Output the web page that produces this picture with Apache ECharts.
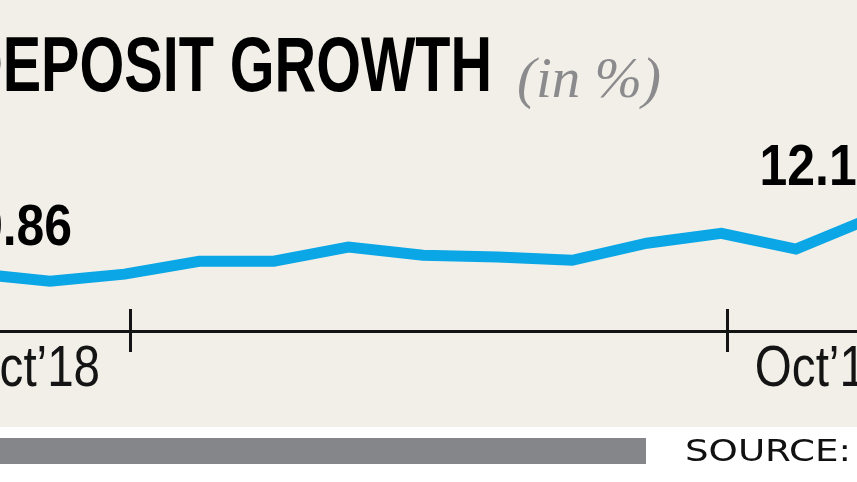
<!DOCTYPE html>
<html><head><meta charset="utf-8">
<script src="https://cdn.jsdelivr.net/npm/echarts@6/dist/echarts.min.js"></script>
<style>html,body{margin:0;padding:0;background:#fff}#c{width:857px;height:482px}</style>
</head><body><div id="c"></div>
<script>
// data (x = period index, y = deposit growth %)
const periods = [0,1,2,3,4,5,6,7,8,9,10,11,12];
const deposit = [9.86, 9.55, 9.84, 10.37, 10.37, 10.95, 10.62, 10.54, 10.41, 11.11, 11.52, 10.87, 12.14];
const tickLabels = ["Oct\u201918", "Oct\u201919"];
const tickAt = [2.08, 10.08];     // axis positions of the year ticks
const labelAt = [0.75, 11.37];    // axis positions of the tick labels

const chart = echarts.init(document.getElementById('c'), null, {renderer:'canvas'});
const XMIN = 0.33, XMAX = 11.818;
const axisColor = '#141414';

const option = {
  backgroundColor: '#ffffff',
  animation: false,
  grid: {left:0, right:0, top:173, bottom:151, containLabel:false, outerBoundsMode:'none'},
  xAxis: [
    {type:'value', min:XMIN, max:XMAX, position:'bottom',
     axisLine:{show:true, lineStyle:{color:axisColor, width:3}},
     axisTick:{show:true, customValues:tickAt, length:21, lineStyle:{color:axisColor, width:3}},
     axisLabel:{show:false},
     splitLine:{show:false}},
    {type:'value', min:XMIN, max:XMAX, position:'bottom',
     axisLine:{show:false},
     axisTick:{show:true, inside:true, customValues:tickAt, length:22, lineStyle:{color:axisColor, width:3}},
     axisLabel:{show:false}, splitLine:{show:false}}
  ],
  yAxis: {type:'value', min:7.5, max:14, show:false},
  series: [{
    type:'line', xAxisIndex:0, yAxisIndex:0,
    data: periods.map((p,i)=>[p, deposit[i]]),
    symbol:'none', clip:true,
    lineStyle:{color:'#0aa6e6', width:11, join:'miter', cap:'butt'},
    z:3
  }],
  graphic: []
};
chart.setOption(option);

const p0 = chart.convertToPixel({seriesIndex:0}, [periods[0], deposit[0]]);
const pN = chart.convertToPixel({seriesIndex:0}, [periods[periods.length-1], deposit[deposit.length-1]]);
const axisY = chart.convertToPixel({yAxisIndex:0}, 7.5);

const axisLabelEls = tickLabels.map((t,i)=>({
  type:'text', x: chart.convertToPixel({xAxisIndex:0}, labelAt[i]), y: axisY + 39, scaleX:0.82,
  style:{text:t, font:'58px "Liberation Sans"', fill:axisColor, textAlign:'center', textVerticalAlign:'middle'}
}));

chart.setOption({
  graphic: [
    {type:'rect', z:-10, silent:true, shape:{x:0,y:0,width:857,height:427}, style:{fill:'#f1efe8'}},
    {type:'rect', z:-5, silent:true, shape:{x:0,y:438,width:646,height:26}, style:{fill:'#858689'}},
    {type:'text', x:685, y:453, scaleX:1.2, style:{text:'SOURCE:', font:'31px "DejaVu Sans"', fill:'#111', textAlign:'left', textVerticalAlign:'middle'}},
    {type:'text', x:492, y:69, scaleX:0.738, style:{text:'DEPOSIT GROWTH', font:'bold 78px "Liberation Sans"', fill:'#000', textAlign:'right', textVerticalAlign:'middle'}},
    {type:'text', x:517, y:82, style:{text:'(in %)', font:'italic 57px "Liberation Serif"', fill:'#8b8b8d', textAlign:'left', textVerticalAlign:'middle'}},
    {type:'text', x:p0[0]+96.6, y:p0[1]-44.5, scaleX:0.86, style:{text:deposit[0].toFixed(2), font:'bold 58px "Liberation Sans"', fill:'#000', textAlign:'right', textVerticalAlign:'middle'}},
    {type:'text', x:pN[0]-111, y:pN[1]-49.5, scaleX:0.86, style:{text:deposit[deposit.length-1].toFixed(2), font:'bold 58px "Liberation Sans"', fill:'#000', textAlign:'left', textVerticalAlign:'middle'}}
  ].concat(axisLabelEls)
});
</script>
</body></html>
